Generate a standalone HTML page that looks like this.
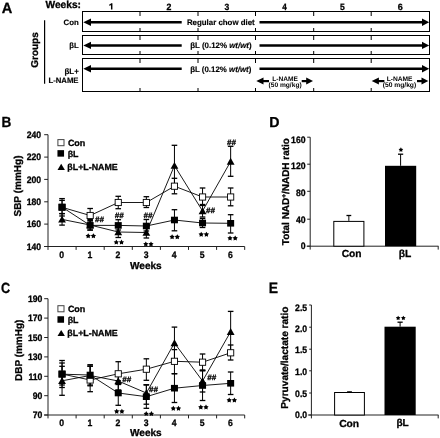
<!DOCTYPE html>
<html><head><meta charset="utf-8"><style>
html,body{margin:0;padding:0;background:#fff;width:440px;height:438px;overflow:hidden}
svg{display:block;will-change:transform}
text{stroke:#000;stroke-width:0.3px;text-rendering:geometricPrecision}
</style></head><body>
<svg width="440" height="438" viewBox="0 0 440 438" font-family="Liberation Sans, sans-serif" font-weight="bold" fill="#000">
<text transform="translate(1.74,12.70) scale(0.985,1)" font-size="14.83">A</text>
<text transform="translate(45.45,8.42) scale(1.000,1)" font-size="10.21" >Weeks:</text>
<path d="M111.70 3.2 L111.70 9.6 M111.70 3.6 Q110.60 5.0 109.20 5.1" fill="none" stroke="#000" stroke-width="1.45"/>
<text transform="translate(166.59,9.60) scale(0.960,1)" font-size="9.14" >2</text>
<text transform="translate(224.58,9.51) scale(0.954,1)" font-size="9.01" >3</text>
<text transform="translate(282.19,9.60) scale(0.875,1)" font-size="9.28" >4</text>
<text transform="translate(339.89,9.51) scale(0.941,1)" font-size="9.14" >5</text>
<text transform="translate(397.69,9.51) scale(0.994,1)" font-size="9.01" >6</text>
<line x1="44.6" y1="20.3" x2="44.6" y2="83.7" stroke="#000" stroke-width="1.2"/>
<text transform="translate(38.19,67.75) rotate(-90) scale(1.000,1)" font-size="9.97" >Groups</text>
<text transform="translate(63.54,24.60) scale(1.000,1)" font-size="7.83" style="stroke-width:0.15px">Con</text>
<text transform="translate(69.31,47.55) scale(1.000,1)" font-size="7.68" style="stroke-width:0.15px">βL</text>
<text transform="translate(64.49,73.81) scale(1.000,1)" font-size="7.93" style="stroke-width:0.15px">βL+</text>
<text transform="translate(48.41,82.87) scale(1.000,1)" font-size="7.75" style="stroke-width:0.15px">L-NAME</text>
<rect x="82.5" y="11.5" width="347" height="20" fill="none" stroke="#000" stroke-width="1"/>
<line x1="140" y1="12" x2="140" y2="16" stroke="#000" stroke-width="1"/>
<line x1="140" y1="28" x2="140" y2="31" stroke="#000" stroke-width="1"/>
<line x1="198" y1="12" x2="198" y2="16" stroke="#000" stroke-width="1"/>
<line x1="198" y1="28" x2="198" y2="31" stroke="#000" stroke-width="1"/>
<line x1="255.5" y1="12" x2="255.5" y2="16" stroke="#000" stroke-width="1"/>
<line x1="255.5" y1="28" x2="255.5" y2="31" stroke="#000" stroke-width="1"/>
<line x1="313.7" y1="12" x2="313.7" y2="16" stroke="#000" stroke-width="1"/>
<line x1="313.7" y1="28" x2="313.7" y2="31" stroke="#000" stroke-width="1"/>
<line x1="371.2" y1="12" x2="371.2" y2="16" stroke="#000" stroke-width="1"/>
<line x1="371.2" y1="28" x2="371.2" y2="31" stroke="#000" stroke-width="1"/>
<line x1="90" y1="22.2" x2="181.7" y2="22.2" stroke="#000" stroke-width="2.5"/>
<line x1="259.5" y1="22.2" x2="423" y2="22.2" stroke="#000" stroke-width="2.5"/>
<path d="M83.3 22.2 L91.0 18.5 L91.0 25.9 Z" fill="#000"/>
<path d="M429.2 22.2 L422.0 18.5 L422.0 25.9 Z" fill="#000"/>
<rect x="82.5" y="35.5" width="347" height="19" fill="none" stroke="#000" stroke-width="1"/>
<line x1="140" y1="36" x2="140" y2="40" stroke="#000" stroke-width="1"/>
<line x1="140" y1="51" x2="140" y2="54" stroke="#000" stroke-width="1"/>
<line x1="198" y1="36" x2="198" y2="40" stroke="#000" stroke-width="1"/>
<line x1="198" y1="51" x2="198" y2="54" stroke="#000" stroke-width="1"/>
<line x1="255.5" y1="36" x2="255.5" y2="40" stroke="#000" stroke-width="1"/>
<line x1="255.5" y1="51" x2="255.5" y2="54" stroke="#000" stroke-width="1"/>
<line x1="313.7" y1="36" x2="313.7" y2="40" stroke="#000" stroke-width="1"/>
<line x1="313.7" y1="51" x2="313.7" y2="54" stroke="#000" stroke-width="1"/>
<line x1="371.2" y1="36" x2="371.2" y2="40" stroke="#000" stroke-width="1"/>
<line x1="371.2" y1="51" x2="371.2" y2="54" stroke="#000" stroke-width="1"/>
<line x1="90" y1="45.4" x2="181.7" y2="45.4" stroke="#000" stroke-width="2.5"/>
<line x1="259.5" y1="45.4" x2="423" y2="45.4" stroke="#000" stroke-width="2.5"/>
<path d="M83.3 45.4 L91.0 41.699999999999996 L91.0 49.1 Z" fill="#000"/>
<path d="M429.2 45.4 L422.0 41.699999999999996 L422.0 49.1 Z" fill="#000"/>
<rect x="82.5" y="58.5" width="347" height="33" fill="none" stroke="#000" stroke-width="1"/>
<line x1="140" y1="59" x2="140" y2="63" stroke="#000" stroke-width="1"/>
<line x1="140" y1="88" x2="140" y2="91" stroke="#000" stroke-width="1"/>
<line x1="198" y1="59" x2="198" y2="63" stroke="#000" stroke-width="1"/>
<line x1="198" y1="88" x2="198" y2="91" stroke="#000" stroke-width="1"/>
<line x1="255.5" y1="59" x2="255.5" y2="63" stroke="#000" stroke-width="1"/>
<line x1="255.5" y1="88" x2="255.5" y2="91" stroke="#000" stroke-width="1"/>
<line x1="313.7" y1="59" x2="313.7" y2="63" stroke="#000" stroke-width="1"/>
<line x1="313.7" y1="88" x2="313.7" y2="91" stroke="#000" stroke-width="1"/>
<line x1="371.2" y1="59" x2="371.2" y2="63" stroke="#000" stroke-width="1"/>
<line x1="371.2" y1="88" x2="371.2" y2="91" stroke="#000" stroke-width="1"/>
<line x1="90" y1="68.7" x2="181.7" y2="68.7" stroke="#000" stroke-width="2.5"/>
<line x1="259.5" y1="68.7" x2="423" y2="68.7" stroke="#000" stroke-width="2.5"/>
<path d="M83.3 68.7 L91.0 65.0 L91.0 72.4 Z" fill="#000"/>
<path d="M429.2 68.7 L422.0 65.0 L422.0 72.4 Z" fill="#000"/>
<text transform="translate(186.90,25.10) scale(1.000,1)" font-size="7.89" style="stroke-width:0.15px">Regular chow diet</text>
<text transform="translate(190.20,48.06) scale(1.000,1)" font-size="7.91" style="stroke-width:0.15px">βL (0.12% <tspan font-style="italic">wt/wt</tspan>)</text>
<text transform="translate(190.20,72.25) scale(1.000,1)" font-size="7.89" style="stroke-width:0.15px">βL (0.12% <tspan font-style="italic">wt/wt</tspan>)</text>
<line x1="261.3" y1="81.1" x2="269.0" y2="81.1" stroke="#000" stroke-width="2.2"/>
<path d="M256.3 81.1 L263.5 77.6 L263.5 84.6 Z" fill="#000"/>
<line x1="301.7" y1="81.1" x2="308" y2="81.1" stroke="#000" stroke-width="2.2"/>
<path d="M313 81.1 L306.2 77.6 L306.2 84.6 Z" fill="#000"/>
<text transform="translate(272.29,80.73) scale(1.000,1)" font-size="6.61" style="stroke:none" text-rendering="geometricPrecision">L-NAME</text>
<text transform="translate(268.52,86.82) scale(1.000,1)" font-size="6.63" style="stroke:none" text-rendering="geometricPrecision">(50 mg/kg)</text>
<line x1="376.7" y1="81.1" x2="384.4" y2="81.1" stroke="#000" stroke-width="2.2"/>
<path d="M371.7 81.1 L378.9 77.6 L378.9 84.6 Z" fill="#000"/>
<line x1="417.0" y1="81.1" x2="423.3" y2="81.1" stroke="#000" stroke-width="2.2"/>
<path d="M428.3 81.1 L421.5 77.6 L421.5 84.6 Z" fill="#000"/>
<text transform="translate(386.68,80.70) scale(1.000,1)" font-size="6.67" style="stroke:none" text-rendering="geometricPrecision">L-NAME</text>
<text transform="translate(382.72,86.99) scale(1.000,1)" font-size="6.69" style="stroke:none" text-rendering="geometricPrecision">(50 mg/kg)</text>
<text transform="translate(1.39,127.00) scale(0.927,1)" font-size="14.68">B</text>
<line x1="48" y1="134.7" x2="48" y2="246.5" stroke="#222" stroke-width="1"/>
<line x1="44.2" y1="134.7" x2="48" y2="134.7" stroke="#222" stroke-width="1"/>
<text transform="translate(41.15,137.90) scale(0.93,1)" font-size="9.3" text-anchor="end">240</text>
<line x1="44.2" y1="157.1" x2="48" y2="157.1" stroke="#222" stroke-width="1"/>
<text transform="translate(41.15,160.30) scale(0.93,1)" font-size="9.3" text-anchor="end">220</text>
<line x1="44.2" y1="179.4" x2="48" y2="179.4" stroke="#222" stroke-width="1"/>
<text transform="translate(41.15,182.60) scale(0.93,1)" font-size="9.3" text-anchor="end">200</text>
<line x1="44.2" y1="201.8" x2="48" y2="201.8" stroke="#222" stroke-width="1"/>
<text transform="translate(41.15,205.00) scale(0.93,1)" font-size="9.3" text-anchor="end">180</text>
<line x1="44.2" y1="224.1" x2="48" y2="224.1" stroke="#222" stroke-width="1"/>
<text transform="translate(41.15,227.30) scale(0.93,1)" font-size="9.3" text-anchor="end">160</text>
<line x1="44.2" y1="246.5" x2="48" y2="246.5" stroke="#222" stroke-width="1"/>
<text transform="translate(41.15,249.70) scale(0.93,1)" font-size="9.3" text-anchor="end">140</text>
<line x1="44.2" y1="246.5" x2="244.7" y2="246.5" stroke="#222" stroke-width="1"/>
<line x1="48.0" y1="246.5" x2="48.0" y2="249.9" stroke="#222" stroke-width="1"/>
<line x1="76.1" y1="246.5" x2="76.1" y2="249.9" stroke="#222" stroke-width="1"/>
<line x1="104.2" y1="246.5" x2="104.2" y2="249.9" stroke="#222" stroke-width="1"/>
<line x1="132.3" y1="246.5" x2="132.3" y2="249.9" stroke="#222" stroke-width="1"/>
<line x1="160.4" y1="246.5" x2="160.4" y2="249.9" stroke="#222" stroke-width="1"/>
<line x1="188.5" y1="246.5" x2="188.5" y2="249.9" stroke="#222" stroke-width="1"/>
<line x1="216.60000000000002" y1="246.5" x2="216.60000000000002" y2="249.9" stroke="#222" stroke-width="1"/>
<line x1="244.70000000000002" y1="246.5" x2="244.70000000000002" y2="249.9" stroke="#222" stroke-width="1"/>
<text transform="translate(61.75,257.80) scale(0.93,1)" font-size="9.3" text-anchor="middle">0</text>
<text transform="translate(89.85,257.80) scale(0.93,1)" font-size="9.3" text-anchor="middle">1</text>
<text transform="translate(117.95,257.80) scale(0.93,1)" font-size="9.3" text-anchor="middle">2</text>
<text transform="translate(146.05,257.80) scale(0.93,1)" font-size="9.3" text-anchor="middle">3</text>
<text transform="translate(174.15,257.80) scale(0.93,1)" font-size="9.3" text-anchor="middle">4</text>
<text transform="translate(202.25,257.80) scale(0.93,1)" font-size="9.3" text-anchor="middle">5</text>
<text transform="translate(230.35,257.80) scale(0.93,1)" font-size="9.3" text-anchor="middle">6</text>
<text transform="translate(130.05,268.77) scale(1.000,1)" font-size="10.06" >Weeks</text>
<text transform="translate(21.05,216.55) rotate(-90) scale(1.000,1)" font-size="10.02" >SBP (mmHg)</text>
<line x1="62.05" y1="198.6" x2="62.05" y2="216" stroke="#000" stroke-width="1"/>
<line x1="59.25" y1="198.6" x2="64.85" y2="198.6" stroke="#000" stroke-width="1.3"/>
<line x1="59.25" y1="216" x2="64.85" y2="216" stroke="#000" stroke-width="1.3"/>
<line x1="90.15" y1="208.5" x2="90.15" y2="222" stroke="#000" stroke-width="1"/>
<line x1="87.35000000000001" y1="208.5" x2="92.95" y2="208.5" stroke="#000" stroke-width="1.3"/>
<line x1="87.35000000000001" y1="222" x2="92.95" y2="222" stroke="#000" stroke-width="1.3"/>
<line x1="118.25" y1="196.3" x2="118.25" y2="208.7" stroke="#000" stroke-width="1"/>
<line x1="115.45" y1="196.3" x2="121.05" y2="196.3" stroke="#000" stroke-width="1.3"/>
<line x1="115.45" y1="208.7" x2="121.05" y2="208.7" stroke="#000" stroke-width="1.3"/>
<line x1="146.35000000000002" y1="196.7" x2="146.35000000000002" y2="207.5" stroke="#000" stroke-width="1"/>
<line x1="143.55" y1="196.7" x2="149.15000000000003" y2="196.7" stroke="#000" stroke-width="1.3"/>
<line x1="143.55" y1="207.5" x2="149.15000000000003" y2="207.5" stroke="#000" stroke-width="1.3"/>
<line x1="174.45" y1="178.3" x2="174.45" y2="193.8" stroke="#000" stroke-width="1"/>
<line x1="171.64999999999998" y1="178.3" x2="177.25" y2="178.3" stroke="#000" stroke-width="1.3"/>
<line x1="171.64999999999998" y1="193.8" x2="177.25" y2="193.8" stroke="#000" stroke-width="1.3"/>
<line x1="202.55" y1="188" x2="202.55" y2="204.5" stroke="#000" stroke-width="1"/>
<line x1="199.75" y1="188" x2="205.35000000000002" y2="188" stroke="#000" stroke-width="1.3"/>
<line x1="199.75" y1="204.5" x2="205.35000000000002" y2="204.5" stroke="#000" stroke-width="1.3"/>
<line x1="230.65000000000003" y1="188" x2="230.65000000000003" y2="205.8" stroke="#000" stroke-width="1"/>
<line x1="227.85000000000002" y1="188" x2="233.45000000000005" y2="188" stroke="#000" stroke-width="1.3"/>
<line x1="227.85000000000002" y1="205.8" x2="233.45000000000005" y2="205.8" stroke="#000" stroke-width="1.3"/>
<line x1="62.05" y1="200.4" x2="62.05" y2="213.6" stroke="#000" stroke-width="1"/>
<line x1="59.25" y1="200.4" x2="64.85" y2="200.4" stroke="#000" stroke-width="1.3"/>
<line x1="59.25" y1="213.6" x2="64.85" y2="213.6" stroke="#000" stroke-width="1.3"/>
<line x1="90.15" y1="220.5" x2="90.15" y2="230.1" stroke="#000" stroke-width="1"/>
<line x1="87.35000000000001" y1="220.5" x2="92.95" y2="220.5" stroke="#000" stroke-width="1.3"/>
<line x1="87.35000000000001" y1="230.1" x2="92.95" y2="230.1" stroke="#000" stroke-width="1.3"/>
<line x1="118.25" y1="219.7" x2="118.25" y2="230" stroke="#000" stroke-width="1"/>
<line x1="115.45" y1="219.7" x2="121.05" y2="219.7" stroke="#000" stroke-width="1.3"/>
<line x1="115.45" y1="230" x2="121.05" y2="230" stroke="#000" stroke-width="1.3"/>
<line x1="146.35000000000002" y1="219.5" x2="146.35000000000002" y2="231" stroke="#000" stroke-width="1"/>
<line x1="143.55" y1="219.5" x2="149.15000000000003" y2="219.5" stroke="#000" stroke-width="1.3"/>
<line x1="143.55" y1="231" x2="149.15000000000003" y2="231" stroke="#000" stroke-width="1.3"/>
<line x1="174.45" y1="209.7" x2="174.45" y2="230.8" stroke="#000" stroke-width="1"/>
<line x1="171.64999999999998" y1="209.7" x2="177.25" y2="209.7" stroke="#000" stroke-width="1.3"/>
<line x1="171.64999999999998" y1="230.8" x2="177.25" y2="230.8" stroke="#000" stroke-width="1.3"/>
<line x1="202.55" y1="218.5" x2="202.55" y2="227.5" stroke="#000" stroke-width="1"/>
<line x1="199.75" y1="218.5" x2="205.35000000000002" y2="218.5" stroke="#000" stroke-width="1.3"/>
<line x1="199.75" y1="227.5" x2="205.35000000000002" y2="227.5" stroke="#000" stroke-width="1.3"/>
<line x1="230.65000000000003" y1="214.7" x2="230.65000000000003" y2="233" stroke="#000" stroke-width="1"/>
<line x1="227.85000000000002" y1="214.7" x2="233.45000000000005" y2="214.7" stroke="#000" stroke-width="1.3"/>
<line x1="227.85000000000002" y1="233" x2="233.45000000000005" y2="233" stroke="#000" stroke-width="1.3"/>
<line x1="62.05" y1="213.6" x2="62.05" y2="225.1" stroke="#000" stroke-width="1"/>
<line x1="59.25" y1="213.6" x2="64.85" y2="213.6" stroke="#000" stroke-width="1.3"/>
<line x1="59.25" y1="225.1" x2="64.85" y2="225.1" stroke="#000" stroke-width="1.3"/>
<line x1="90.15" y1="219.6" x2="90.15" y2="230" stroke="#000" stroke-width="1"/>
<line x1="87.35000000000001" y1="219.6" x2="92.95" y2="219.6" stroke="#000" stroke-width="1.3"/>
<line x1="87.35000000000001" y1="230" x2="92.95" y2="230" stroke="#000" stroke-width="1.3"/>
<line x1="118.25" y1="226" x2="118.25" y2="237.5" stroke="#000" stroke-width="1"/>
<line x1="115.45" y1="226" x2="121.05" y2="226" stroke="#000" stroke-width="1.3"/>
<line x1="115.45" y1="237.5" x2="121.05" y2="237.5" stroke="#000" stroke-width="1.3"/>
<line x1="146.35000000000002" y1="226" x2="146.35000000000002" y2="238" stroke="#000" stroke-width="1"/>
<line x1="143.55" y1="226" x2="149.15000000000003" y2="226" stroke="#000" stroke-width="1.3"/>
<line x1="143.55" y1="238" x2="149.15000000000003" y2="238" stroke="#000" stroke-width="1.3"/>
<line x1="174.45" y1="145.3" x2="174.45" y2="185.7" stroke="#000" stroke-width="1"/>
<line x1="171.64999999999998" y1="145.3" x2="177.25" y2="145.3" stroke="#000" stroke-width="1.3"/>
<line x1="171.64999999999998" y1="185.7" x2="177.25" y2="185.7" stroke="#000" stroke-width="1.3"/>
<line x1="202.55" y1="205.5" x2="202.55" y2="217" stroke="#000" stroke-width="1"/>
<line x1="199.75" y1="205.5" x2="205.35000000000002" y2="205.5" stroke="#000" stroke-width="1.3"/>
<line x1="199.75" y1="217" x2="205.35000000000002" y2="217" stroke="#000" stroke-width="1.3"/>
<line x1="230.65000000000003" y1="146.3" x2="230.65000000000003" y2="176.3" stroke="#000" stroke-width="1"/>
<line x1="227.85000000000002" y1="146.3" x2="233.45000000000005" y2="146.3" stroke="#000" stroke-width="1.3"/>
<line x1="227.85000000000002" y1="176.3" x2="233.45000000000005" y2="176.3" stroke="#000" stroke-width="1.3"/>
<polyline points="62.05,207.3 90.15,215.5 118.25,202.5 146.35,202.5 174.45,186.2 202.55,197 230.65,197" fill="none" stroke="#000" stroke-width="0.9"/>
<polyline points="62.05,207.1 90.15,225.4 118.25,225.4 146.35,226.0 174.45,220 202.55,223 230.65,223.3" fill="none" stroke="#000" stroke-width="0.9"/>
<polyline points="62.05,219.4 90.15,225 118.25,232 146.35,232.5 174.45,165.6 202.55,211 230.65,161.5" fill="none" stroke="#000" stroke-width="0.9"/>
<rect x="58.95" y="204.20" width="6.2" height="6.2" fill="#fff" stroke="#000" stroke-width="0.9"/>
<rect x="87.05" y="212.40" width="6.2" height="6.2" fill="#fff" stroke="#000" stroke-width="0.9"/>
<rect x="115.15" y="199.40" width="6.2" height="6.2" fill="#fff" stroke="#000" stroke-width="0.9"/>
<rect x="143.25" y="199.40" width="6.2" height="6.2" fill="#fff" stroke="#000" stroke-width="0.9"/>
<rect x="171.35" y="183.10" width="6.2" height="6.2" fill="#fff" stroke="#000" stroke-width="0.9"/>
<rect x="199.45" y="193.90" width="6.2" height="6.2" fill="#fff" stroke="#000" stroke-width="0.9"/>
<rect x="227.55" y="193.90" width="6.2" height="6.2" fill="#fff" stroke="#000" stroke-width="0.9"/>
<path d="M62.05 215.70 L65.95 222.60 L58.15 222.60 Z" fill="#000"/>
<path d="M90.15 221.30 L94.05 228.20 L86.25 228.20 Z" fill="#000"/>
<path d="M118.25 228.30 L122.15 235.20 L114.35 235.20 Z" fill="#000"/>
<path d="M146.35 228.80 L150.25 235.70 L142.45 235.70 Z" fill="#000"/>
<path d="M174.45 161.90 L178.35 168.80 L170.55 168.80 Z" fill="#000"/>
<path d="M202.55 207.30 L206.45 214.20 L198.65 214.20 Z" fill="#000"/>
<path d="M230.65 157.80 L234.55 164.70 L226.75 164.70 Z" fill="#000"/>
<rect x="58.55" y="203.80" width="7" height="6.6" fill="#000"/>
<rect x="86.65" y="222.10" width="7" height="6.6" fill="#000"/>
<rect x="114.75" y="222.10" width="7" height="6.6" fill="#000"/>
<rect x="142.85" y="222.70" width="7" height="6.6" fill="#000"/>
<rect x="170.95" y="216.70" width="7" height="6.6" fill="#000"/>
<rect x="199.05" y="219.70" width="7" height="6.6" fill="#000"/>
<rect x="227.15" y="220.00" width="7" height="6.6" fill="#000"/>
<rect x="57.9" y="139.6" width="6.1" height="6.1" fill="#fff" stroke="#444" stroke-width="1"/>
<text transform="translate(67.89,146.04) scale(1.000,1)" font-size="8.97" >Con</text>
<rect x="57.45" y="150.14999999999998" width="6.6" height="6.5" fill="#000"/>
<text transform="translate(67.63,156.85) scale(1.000,1)" font-size="8.84" >βL</text>
<path d="M61.2 163.79999999999998 L64.9 169.89999999999998 L57.5 169.89999999999998 Z" fill="#000"/>
<text transform="translate(67.33,169.56) scale(1.000,1)" font-size="8.87" >βL+L-NAME</text>
<text x="95.1" y="222.4" font-size="7.8" font-style="italic" textLength="8.8" lengthAdjust="spacingAndGlyphs" stroke="#000" stroke-width="0.35">##</text>
<text x="114.8" y="217.9" font-size="7.8" font-style="italic" textLength="8.8" lengthAdjust="spacingAndGlyphs" stroke="#000" stroke-width="0.35">##</text>
<text x="143.5" y="217.9" font-size="7.8" font-style="italic" textLength="8.8" lengthAdjust="spacingAndGlyphs" stroke="#000" stroke-width="0.35">##</text>
<text x="206.10000000000002" y="212.6" font-size="7.8" font-style="italic" textLength="8.8" lengthAdjust="spacingAndGlyphs" stroke="#000" stroke-width="0.35">##</text>
<text x="227.0" y="145.1" font-size="7.8" font-style="italic" textLength="8.8" lengthAdjust="spacingAndGlyphs" stroke="#000" stroke-width="0.35">##</text>
<polygon points="88.20,233.30 89.09,234.83 90.82,235.20 89.64,236.52 89.82,238.27 88.20,237.56 86.58,238.27 86.76,236.52 85.58,235.20 87.31,234.83" fill="#000"/>
<polygon points="93.40,233.30 94.29,234.83 96.02,235.20 94.84,236.52 95.02,238.27 93.40,237.56 91.78,238.27 91.96,236.52 90.78,235.20 92.51,234.83" fill="#000"/>
<polygon points="116.30,239.60 117.19,241.13 118.92,241.50 117.74,242.82 117.92,244.57 116.30,243.86 114.68,244.57 114.86,242.82 113.68,241.50 115.41,241.13" fill="#000"/>
<polygon points="121.50,239.60 122.39,241.13 124.12,241.50 122.94,242.82 123.12,244.57 121.50,243.86 119.88,244.57 120.06,242.82 118.88,241.50 120.61,241.13" fill="#000"/>
<polygon points="145.80,241.40 146.69,242.93 148.42,243.30 147.24,244.62 147.42,246.37 145.80,245.66 144.18,246.37 144.36,244.62 143.18,243.30 144.91,242.93" fill="#000"/>
<polygon points="151.00,241.40 151.89,242.93 153.62,243.30 152.44,244.62 152.62,246.37 151.00,245.66 149.38,246.37 149.56,244.62 148.38,243.30 150.11,242.93" fill="#000"/>
<polygon points="172.10,234.20 172.99,235.73 174.72,236.10 173.54,237.42 173.72,239.17 172.10,238.46 170.48,239.17 170.66,237.42 169.48,236.10 171.21,235.73" fill="#000"/>
<polygon points="177.30,234.20 178.19,235.73 179.92,236.10 178.74,237.42 178.92,239.17 177.30,238.46 175.68,239.17 175.86,237.42 174.68,236.10 176.41,235.73" fill="#000"/>
<polygon points="201.20,231.70 202.09,233.23 203.82,233.60 202.64,234.92 202.82,236.67 201.20,235.96 199.58,236.67 199.76,234.92 198.58,233.60 200.31,233.23" fill="#000"/>
<polygon points="206.40,231.70 207.29,233.23 209.02,233.60 207.84,234.92 208.02,236.67 206.40,235.96 204.78,236.67 204.96,234.92 203.78,233.60 205.51,233.23" fill="#000"/>
<polygon points="230.00,235.50 230.89,237.03 232.62,237.40 231.44,238.72 231.62,240.47 230.00,239.76 228.38,240.47 228.56,238.72 227.38,237.40 229.11,237.03" fill="#000"/>
<polygon points="235.20,235.50 236.09,237.03 237.82,237.40 236.64,238.72 236.82,240.47 235.20,239.76 233.58,240.47 233.76,238.72 232.58,237.40 234.31,237.03" fill="#000"/>
<text transform="translate(0.88,292.56) scale(0.864,1)" font-size="14.69">C</text>
<line x1="48" y1="298.7" x2="48" y2="415.0" stroke="#222" stroke-width="1"/>
<line x1="44.2" y1="298.7" x2="48" y2="298.7" stroke="#222" stroke-width="1"/>
<text transform="translate(42.35,301.90) scale(0.93,1)" font-size="9.3" text-anchor="end">190</text>
<line x1="44.2" y1="318.1" x2="48" y2="318.1" stroke="#222" stroke-width="1"/>
<text transform="translate(42.35,321.30) scale(0.93,1)" font-size="9.3" text-anchor="end">170</text>
<line x1="44.2" y1="337.5" x2="48" y2="337.5" stroke="#222" stroke-width="1"/>
<text transform="translate(42.35,340.70) scale(0.93,1)" font-size="9.3" text-anchor="end">150</text>
<line x1="44.2" y1="356.9" x2="48" y2="356.9" stroke="#222" stroke-width="1"/>
<text transform="translate(42.35,360.10) scale(0.93,1)" font-size="9.3" text-anchor="end">130</text>
<line x1="44.2" y1="376.3" x2="48" y2="376.3" stroke="#222" stroke-width="1"/>
<text transform="translate(42.35,379.50) scale(0.93,1)" font-size="9.3" text-anchor="end">110</text>
<line x1="44.2" y1="395.7" x2="48" y2="395.7" stroke="#222" stroke-width="1"/>
<text transform="translate(42.35,398.90) scale(0.93,1)" font-size="9.3" text-anchor="end">90</text>
<line x1="44.2" y1="415.0" x2="48" y2="415.0" stroke="#222" stroke-width="1"/>
<text transform="translate(42.35,418.20) scale(0.93,1)" font-size="9.3" text-anchor="end">70</text>
<line x1="44.2" y1="415.0" x2="244.7" y2="415.0" stroke="#222" stroke-width="1"/>
<line x1="48.0" y1="415.0" x2="48.0" y2="418.4" stroke="#222" stroke-width="1"/>
<line x1="76.1" y1="415.0" x2="76.1" y2="418.4" stroke="#222" stroke-width="1"/>
<line x1="104.2" y1="415.0" x2="104.2" y2="418.4" stroke="#222" stroke-width="1"/>
<line x1="132.3" y1="415.0" x2="132.3" y2="418.4" stroke="#222" stroke-width="1"/>
<line x1="160.4" y1="415.0" x2="160.4" y2="418.4" stroke="#222" stroke-width="1"/>
<line x1="188.5" y1="415.0" x2="188.5" y2="418.4" stroke="#222" stroke-width="1"/>
<line x1="216.60000000000002" y1="415.0" x2="216.60000000000002" y2="418.4" stroke="#222" stroke-width="1"/>
<line x1="244.70000000000002" y1="415.0" x2="244.70000000000002" y2="418.4" stroke="#222" stroke-width="1"/>
<text transform="translate(61.75,425.50) scale(0.93,1)" font-size="9.3" text-anchor="middle">0</text>
<text transform="translate(89.85,425.50) scale(0.93,1)" font-size="9.3" text-anchor="middle">1</text>
<text transform="translate(117.95,425.50) scale(0.93,1)" font-size="9.3" text-anchor="middle">2</text>
<text transform="translate(146.05,425.50) scale(0.93,1)" font-size="9.3" text-anchor="middle">3</text>
<text transform="translate(174.15,425.50) scale(0.93,1)" font-size="9.3" text-anchor="middle">4</text>
<text transform="translate(202.25,425.50) scale(0.93,1)" font-size="9.3" text-anchor="middle">5</text>
<text transform="translate(230.35,425.50) scale(0.93,1)" font-size="9.3" text-anchor="middle">6</text>
<text transform="translate(130.05,436.47) scale(1.000,1)" font-size="10.06" >Weeks</text>
<text transform="translate(22.15,380.95) rotate(-90) scale(1.000,1)" font-size="9.98" >DBP (mmHg)</text>
<line x1="62.05" y1="360.5" x2="62.05" y2="387.5" stroke="#000" stroke-width="1"/>
<line x1="59.25" y1="360.5" x2="64.85" y2="360.5" stroke="#000" stroke-width="1.3"/>
<line x1="59.25" y1="387.5" x2="64.85" y2="387.5" stroke="#000" stroke-width="1.3"/>
<line x1="90.15" y1="366.3" x2="90.15" y2="391.7" stroke="#000" stroke-width="1"/>
<line x1="87.35000000000001" y1="366.3" x2="92.95" y2="366.3" stroke="#000" stroke-width="1.3"/>
<line x1="87.35000000000001" y1="391.7" x2="92.95" y2="391.7" stroke="#000" stroke-width="1.3"/>
<line x1="118.25" y1="361.7" x2="118.25" y2="384.5" stroke="#000" stroke-width="1"/>
<line x1="115.45" y1="361.7" x2="121.05" y2="361.7" stroke="#000" stroke-width="1.3"/>
<line x1="115.45" y1="384.5" x2="121.05" y2="384.5" stroke="#000" stroke-width="1.3"/>
<line x1="146.35000000000002" y1="358.8" x2="146.35000000000002" y2="380.3" stroke="#000" stroke-width="1"/>
<line x1="143.55" y1="358.8" x2="149.15000000000003" y2="358.8" stroke="#000" stroke-width="1.3"/>
<line x1="143.55" y1="380.3" x2="149.15000000000003" y2="380.3" stroke="#000" stroke-width="1.3"/>
<line x1="174.45" y1="349.6" x2="174.45" y2="373.7" stroke="#000" stroke-width="1"/>
<line x1="171.64999999999998" y1="349.6" x2="177.25" y2="349.6" stroke="#000" stroke-width="1.3"/>
<line x1="171.64999999999998" y1="373.7" x2="177.25" y2="373.7" stroke="#000" stroke-width="1.3"/>
<line x1="202.55" y1="354" x2="202.55" y2="370.8" stroke="#000" stroke-width="1"/>
<line x1="199.75" y1="354" x2="205.35000000000002" y2="354" stroke="#000" stroke-width="1.3"/>
<line x1="199.75" y1="370.8" x2="205.35000000000002" y2="370.8" stroke="#000" stroke-width="1.3"/>
<line x1="230.65000000000003" y1="345" x2="230.65000000000003" y2="360" stroke="#000" stroke-width="1"/>
<line x1="227.85000000000002" y1="345" x2="233.45000000000005" y2="345" stroke="#000" stroke-width="1.3"/>
<line x1="227.85000000000002" y1="360" x2="233.45000000000005" y2="360" stroke="#000" stroke-width="1.3"/>
<line x1="62.05" y1="363" x2="62.05" y2="385" stroke="#000" stroke-width="1"/>
<line x1="59.25" y1="363" x2="64.85" y2="363" stroke="#000" stroke-width="1.3"/>
<line x1="59.25" y1="385" x2="64.85" y2="385" stroke="#000" stroke-width="1.3"/>
<line x1="90.15" y1="364.7" x2="90.15" y2="385.8" stroke="#000" stroke-width="1"/>
<line x1="87.35000000000001" y1="364.7" x2="92.95" y2="364.7" stroke="#000" stroke-width="1.3"/>
<line x1="87.35000000000001" y1="385.8" x2="92.95" y2="385.8" stroke="#000" stroke-width="1.3"/>
<line x1="118.25" y1="380.8" x2="118.25" y2="405.3" stroke="#000" stroke-width="1"/>
<line x1="115.45" y1="380.8" x2="121.05" y2="380.8" stroke="#000" stroke-width="1.3"/>
<line x1="115.45" y1="405.3" x2="121.05" y2="405.3" stroke="#000" stroke-width="1.3"/>
<line x1="146.35000000000002" y1="384.7" x2="146.35000000000002" y2="408.3" stroke="#000" stroke-width="1"/>
<line x1="143.55" y1="384.7" x2="149.15000000000003" y2="384.7" stroke="#000" stroke-width="1.3"/>
<line x1="143.55" y1="408.3" x2="149.15000000000003" y2="408.3" stroke="#000" stroke-width="1.3"/>
<line x1="174.45" y1="373.7" x2="174.45" y2="402.5" stroke="#000" stroke-width="1"/>
<line x1="171.64999999999998" y1="373.7" x2="177.25" y2="373.7" stroke="#000" stroke-width="1.3"/>
<line x1="171.64999999999998" y1="402.5" x2="177.25" y2="402.5" stroke="#000" stroke-width="1.3"/>
<line x1="202.55" y1="370.5" x2="202.55" y2="400.5" stroke="#000" stroke-width="1"/>
<line x1="199.75" y1="370.5" x2="205.35000000000002" y2="370.5" stroke="#000" stroke-width="1.3"/>
<line x1="199.75" y1="400.5" x2="205.35000000000002" y2="400.5" stroke="#000" stroke-width="1.3"/>
<line x1="230.65000000000003" y1="372" x2="230.65000000000003" y2="394.5" stroke="#000" stroke-width="1"/>
<line x1="227.85000000000002" y1="372" x2="233.45000000000005" y2="372" stroke="#000" stroke-width="1.3"/>
<line x1="227.85000000000002" y1="394.5" x2="233.45000000000005" y2="394.5" stroke="#000" stroke-width="1.3"/>
<line x1="62.05" y1="366.3" x2="62.05" y2="395.3" stroke="#000" stroke-width="1"/>
<line x1="59.25" y1="366.3" x2="64.85" y2="366.3" stroke="#000" stroke-width="1.3"/>
<line x1="59.25" y1="395.3" x2="64.85" y2="395.3" stroke="#000" stroke-width="1.3"/>
<line x1="90.15" y1="366" x2="90.15" y2="385" stroke="#000" stroke-width="1"/>
<line x1="87.35000000000001" y1="366" x2="92.95" y2="366" stroke="#000" stroke-width="1.3"/>
<line x1="87.35000000000001" y1="385" x2="92.95" y2="385" stroke="#000" stroke-width="1.3"/>
<line x1="118.25" y1="372" x2="118.25" y2="390" stroke="#000" stroke-width="1"/>
<line x1="115.45" y1="372" x2="121.05" y2="372" stroke="#000" stroke-width="1.3"/>
<line x1="115.45" y1="390" x2="121.05" y2="390" stroke="#000" stroke-width="1.3"/>
<line x1="146.35000000000002" y1="385" x2="146.35000000000002" y2="404.2" stroke="#000" stroke-width="1"/>
<line x1="143.55" y1="385" x2="149.15000000000003" y2="385" stroke="#000" stroke-width="1.3"/>
<line x1="143.55" y1="404.2" x2="149.15000000000003" y2="404.2" stroke="#000" stroke-width="1.3"/>
<line x1="174.45" y1="327.1" x2="174.45" y2="359" stroke="#000" stroke-width="1"/>
<line x1="171.64999999999998" y1="327.1" x2="177.25" y2="327.1" stroke="#000" stroke-width="1.3"/>
<line x1="171.64999999999998" y1="359" x2="177.25" y2="359" stroke="#000" stroke-width="1.3"/>
<line x1="202.55" y1="370" x2="202.55" y2="392" stroke="#000" stroke-width="1"/>
<line x1="199.75" y1="370" x2="205.35000000000002" y2="370" stroke="#000" stroke-width="1.3"/>
<line x1="199.75" y1="392" x2="205.35000000000002" y2="392" stroke="#000" stroke-width="1.3"/>
<line x1="230.65000000000003" y1="311.4" x2="230.65000000000003" y2="352" stroke="#000" stroke-width="1"/>
<line x1="227.85000000000002" y1="311.4" x2="233.45000000000005" y2="311.4" stroke="#000" stroke-width="1.3"/>
<line x1="227.85000000000002" y1="352" x2="233.45000000000005" y2="352" stroke="#000" stroke-width="1.3"/>
<polyline points="62.05,374 90.15,380 118.25,373.8 146.35,369.2 174.45,361.3 202.55,362.2 230.65,352.8" fill="none" stroke="#000" stroke-width="0.9"/>
<polyline points="62.05,374.2 90.15,375 118.25,393 146.35,396.7 174.45,388.2 202.55,385.5 230.65,383.3" fill="none" stroke="#000" stroke-width="0.9"/>
<polyline points="62.05,380.8 90.15,375.5 118.25,381 146.35,393 174.45,343 202.55,381 230.65,331.7" fill="none" stroke="#000" stroke-width="0.9"/>
<rect x="58.95" y="370.90" width="6.2" height="6.2" fill="#fff" stroke="#000" stroke-width="0.9"/>
<rect x="87.05" y="376.90" width="6.2" height="6.2" fill="#fff" stroke="#000" stroke-width="0.9"/>
<rect x="115.15" y="370.70" width="6.2" height="6.2" fill="#fff" stroke="#000" stroke-width="0.9"/>
<rect x="143.25" y="366.10" width="6.2" height="6.2" fill="#fff" stroke="#000" stroke-width="0.9"/>
<rect x="171.35" y="358.20" width="6.2" height="6.2" fill="#fff" stroke="#000" stroke-width="0.9"/>
<rect x="199.45" y="359.10" width="6.2" height="6.2" fill="#fff" stroke="#000" stroke-width="0.9"/>
<rect x="227.55" y="349.70" width="6.2" height="6.2" fill="#fff" stroke="#000" stroke-width="0.9"/>
<path d="M62.05 377.10 L65.95 384.00 L58.15 384.00 Z" fill="#000"/>
<path d="M90.15 371.80 L94.05 378.70 L86.25 378.70 Z" fill="#000"/>
<path d="M118.25 377.30 L122.15 384.20 L114.35 384.20 Z" fill="#000"/>
<path d="M146.35 389.30 L150.25 396.20 L142.45 396.20 Z" fill="#000"/>
<path d="M174.45 339.30 L178.35 346.20 L170.55 346.20 Z" fill="#000"/>
<path d="M202.55 377.30 L206.45 384.20 L198.65 384.20 Z" fill="#000"/>
<path d="M230.65 328.00 L234.55 334.90 L226.75 334.90 Z" fill="#000"/>
<rect x="58.55" y="370.90" width="7" height="6.6" fill="#000"/>
<rect x="86.65" y="371.70" width="7" height="6.6" fill="#000"/>
<rect x="114.75" y="389.70" width="7" height="6.6" fill="#000"/>
<rect x="142.85" y="393.40" width="7" height="6.6" fill="#000"/>
<rect x="170.95" y="384.90" width="7" height="6.6" fill="#000"/>
<rect x="199.05" y="382.20" width="7" height="6.6" fill="#000"/>
<rect x="227.15" y="380.00" width="7" height="6.6" fill="#000"/>
<rect x="57.9" y="305.7" width="6.1" height="6.1" fill="#fff" stroke="#444" stroke-width="1"/>
<text transform="translate(67.89,312.14) scale(1.000,1)" font-size="8.97" >Con</text>
<rect x="57.45" y="316.25" width="6.6" height="6.5" fill="#000"/>
<text transform="translate(67.63,322.95) scale(1.000,1)" font-size="8.84" >βL</text>
<path d="M61.2 329.90000000000003 L64.9 336.0 L57.5 336.0 Z" fill="#000"/>
<text transform="translate(67.33,335.66) scale(1.000,1)" font-size="8.87" >βL+L-NAME</text>
<text x="122.3" y="382.09999999999997" font-size="7.8" font-style="italic" textLength="8.8" lengthAdjust="spacingAndGlyphs" stroke="#000" stroke-width="0.35">##</text>
<text x="149.0" y="392.4" font-size="7.8" font-style="italic" textLength="8.8" lengthAdjust="spacingAndGlyphs" stroke="#000" stroke-width="0.35">##</text>
<text x="207.3" y="380.4" font-size="7.8" font-style="italic" textLength="8.8" lengthAdjust="spacingAndGlyphs" stroke="#000" stroke-width="0.35">##</text>
<polygon points="116.70,408.70 117.59,410.23 119.32,410.60 118.14,411.92 118.32,413.67 116.70,412.96 115.08,413.67 115.26,411.92 114.08,410.60 115.81,410.23" fill="#000"/>
<polygon points="121.90,408.70 122.79,410.23 124.52,410.60 123.34,411.92 123.52,413.67 121.90,412.96 120.28,413.67 120.46,411.92 119.28,410.60 121.01,410.23" fill="#000"/>
<polygon points="146.20,411.10 147.09,412.63 148.82,413.00 147.64,414.32 147.82,416.07 146.20,415.36 144.58,416.07 144.76,414.32 143.58,413.00 145.31,412.63" fill="#000"/>
<polygon points="151.40,411.10 152.29,412.63 154.02,413.00 152.84,414.32 153.02,416.07 151.40,415.36 149.78,416.07 149.96,414.32 148.78,413.00 150.51,412.63" fill="#000"/>
<polygon points="173.30,405.80 174.19,407.33 175.92,407.70 174.74,409.02 174.92,410.77 173.30,410.06 171.68,410.77 171.86,409.02 170.68,407.70 172.41,407.33" fill="#000"/>
<polygon points="178.50,405.80 179.39,407.33 181.12,407.70 179.94,409.02 180.12,410.77 178.50,410.06 176.88,410.77 177.06,409.02 175.88,407.70 177.61,407.33" fill="#000"/>
<polygon points="200.80,404.50 201.69,406.03 203.42,406.40 202.24,407.72 202.42,409.47 200.80,408.76 199.18,409.47 199.36,407.72 198.18,406.40 199.91,406.03" fill="#000"/>
<polygon points="206.00,404.50 206.89,406.03 208.62,406.40 207.44,407.72 207.62,409.47 206.00,408.76 204.38,409.47 204.56,407.72 203.38,406.40 205.11,406.03" fill="#000"/>
<polygon points="229.20,397.50 230.09,399.03 231.82,399.40 230.64,400.72 230.82,402.47 229.20,401.76 227.58,402.47 227.76,400.72 226.58,399.40 228.31,399.03" fill="#000"/>
<polygon points="234.40,397.50 235.29,399.03 237.02,399.40 235.84,400.72 236.02,402.47 234.40,401.76 232.78,402.47 232.96,400.72 231.78,399.40 233.51,399.03" fill="#000"/>
<text transform="translate(269.15,126.80) scale(0.986,1)" font-size="14.39">D</text>
<line x1="310.2" y1="137.2" x2="310.2" y2="246.2" stroke="#222" stroke-width="1"/>
<line x1="307.2" y1="246.2" x2="310.2" y2="246.2" stroke="#222" stroke-width="1"/>
<text transform="translate(305.55,249.45) scale(0.93,1)" font-size="9.3" text-anchor="end">0</text>
<line x1="307.2" y1="219.2" x2="310.2" y2="219.2" stroke="#222" stroke-width="1"/>
<text transform="translate(305.55,222.70) scale(0.93,1)" font-size="9.3" text-anchor="end">40</text>
<line x1="307.2" y1="191.3" x2="310.2" y2="191.3" stroke="#222" stroke-width="1"/>
<text transform="translate(305.55,195.70) scale(0.93,1)" font-size="9.3" text-anchor="end">80</text>
<line x1="307.2" y1="164.2" x2="310.2" y2="164.2" stroke="#222" stroke-width="1"/>
<text transform="translate(305.55,169.10) scale(0.93,1)" font-size="9.3" text-anchor="end">120</text>
<line x1="307.2" y1="137.2" x2="310.2" y2="137.2" stroke="#222" stroke-width="1"/>
<text transform="translate(305.55,142.60) scale(0.93,1)" font-size="9.3" text-anchor="end">160</text>
<line x1="306.7" y1="246.2" x2="438.5" y2="246.2" stroke="#222" stroke-width="1"/>
<line x1="310.2" y1="246.2" x2="310.2" y2="249.6" stroke="#222" stroke-width="1"/>
<line x1="438.2" y1="246.2" x2="438.2" y2="249.6" stroke="#222" stroke-width="1"/>
<line x1="348.85" y1="215.5" x2="348.85" y2="220.9" stroke="#000" stroke-width="1"/>
<line x1="346.45000000000005" y1="215.5" x2="351.25" y2="215.5" stroke="#000" stroke-width="1.3"/>
<rect x="333.8" y="221.4" width="30.099999999999966" height="24.799999999999983" fill="#fff" stroke="#000" stroke-width="1"/>
<line x1="400.6" y1="154.2" x2="400.6" y2="165.8" stroke="#000" stroke-width="1"/>
<line x1="398.0" y1="154.2" x2="403.20000000000005" y2="154.2" stroke="#000" stroke-width="1.3"/>
<rect x="385" y="165.8" width="31.19999999999999" height="80.39999999999998" fill="#000"/>
<text transform="translate(341.64,256.57) scale(1.000,1)" font-size="10.22" >Con</text>
<text transform="translate(398.83,256.52) scale(1.000,1)" font-size="10.27" >βL</text>
<polygon points="400.90,147.35 401.69,148.71 403.23,149.04 402.18,150.22 402.34,151.78 400.90,151.15 399.46,151.78 399.62,150.22 398.57,149.04 400.11,148.71" fill="#000"/>
<text transform="translate(289.24,245.15) rotate(-90) scale(1.000,1)" font-size="9.96" >Total NAD<tspan font-size="65%" dy="-0.54em" >+</tspan><tspan dy="0.35em">/NADH ratio</tspan></text>
<text transform="translate(268.87,292.70) scale(0.920,1)" font-size="15.12">E</text>
<line x1="311.4" y1="305" x2="311.4" y2="415" stroke="#222" stroke-width="1"/>
<line x1="309.2" y1="415" x2="311.4" y2="415" stroke="#222" stroke-width="1"/>
<text transform="translate(307.15,417.60) scale(0.93,1)" font-size="9.3" text-anchor="end">0.0</text>
<line x1="309.2" y1="393" x2="311.4" y2="393" stroke="#222" stroke-width="1"/>
<text transform="translate(307.15,396.70) scale(0.93,1)" font-size="9.3" text-anchor="end">0.5</text>
<line x1="309.2" y1="370.8" x2="311.4" y2="370.8" stroke="#222" stroke-width="1"/>
<text transform="translate(307.15,375.00) scale(0.93,1)" font-size="9.3" text-anchor="end">1.0</text>
<line x1="309.2" y1="349.2" x2="311.4" y2="349.2" stroke="#222" stroke-width="1"/>
<text transform="translate(307.15,352.70) scale(0.93,1)" font-size="9.3" text-anchor="end">1.5</text>
<line x1="309.2" y1="327.2" x2="311.4" y2="327.2" stroke="#222" stroke-width="1"/>
<text transform="translate(307.15,331.80) scale(0.93,1)" font-size="9.3" text-anchor="end">2.0</text>
<line x1="309.2" y1="305" x2="311.4" y2="305" stroke="#222" stroke-width="1"/>
<text transform="translate(307.15,310.90) scale(0.93,1)" font-size="9.3" text-anchor="end">2.5</text>
<line x1="307.9" y1="415" x2="438.5" y2="415" stroke="#222" stroke-width="1"/>
<line x1="311.4" y1="415" x2="311.4" y2="418.4" stroke="#222" stroke-width="1"/>
<line x1="438.2" y1="415" x2="438.2" y2="418.4" stroke="#222" stroke-width="1"/>
<line x1="349.5" y1="391.9" x2="349.5" y2="392.0" stroke="#000" stroke-width="1"/>
<line x1="347.1" y1="391.9" x2="351.9" y2="391.9" stroke="#000" stroke-width="1.3"/>
<rect x="334.6" y="392.5" width="29.799999999999955" height="22.5" fill="#fff" stroke="#000" stroke-width="1"/>
<line x1="400.1" y1="322.2" x2="400.1" y2="326.7" stroke="#000" stroke-width="1"/>
<line x1="397.5" y1="322.2" x2="402.70000000000005" y2="322.2" stroke="#000" stroke-width="1.3"/>
<rect x="384.5" y="326.7" width="31.19999999999999" height="88.30000000000001" fill="#000"/>
<text transform="translate(339.14,426.59) scale(1.000,1)" font-size="10.27" >Con</text>
<text transform="translate(396.44,426.47) scale(1.000,1)" font-size="10.09" >βL</text>
<polygon points="398.15,315.65 398.94,317.01 400.48,317.34 399.43,318.52 399.59,320.08 398.15,319.45 396.71,320.08 396.87,318.52 395.82,317.34 397.36,317.01" fill="#000"/>
<polygon points="403.35,315.65 404.14,317.01 405.68,317.34 404.63,318.52 404.79,320.08 403.35,319.45 401.91,320.08 402.07,318.52 401.02,317.34 402.56,317.01" fill="#000"/>
<text transform="translate(287.58,408.66) rotate(-90) scale(1.000,1)" font-size="10.11" >Pyruvate/lactate ratio</text>
</svg>
</body></html>
